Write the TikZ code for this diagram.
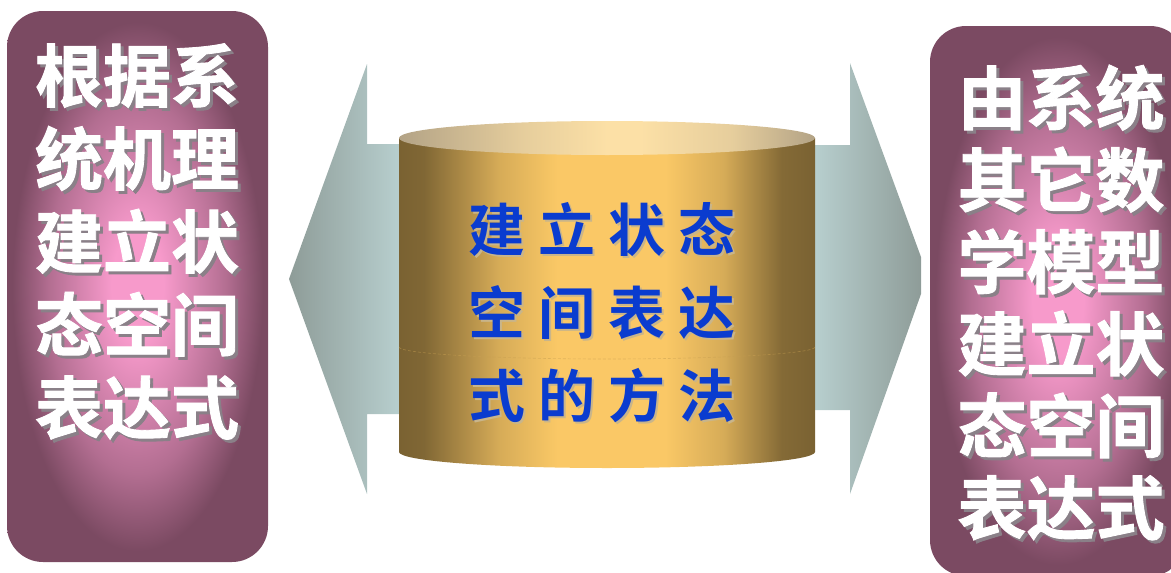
\documentclass[tikz,border=0pt]{standalone}
\usepackage{fontspec}
\newfontfamily\cjk{Noto Sans CJK SC}[BoldFont={Noto Sans CJK SC Bold}]
\newfontfamily\cjkheavy{Noto Sans CJK SC Bold}[FakeBold=1.3]
\definecolor{plum}{HTML}{7B4A62}
\definecolor{pinkc}{HTML}{F79ACB}
\definecolor{arrowlight}{HTML}{BFD8D8}
\definecolor{arrowdark}{HTML}{8E9C98}
\definecolor{cyldark}{HTML}{7A6232}
\definecolor{cylgold}{HTML}{FAC866}
\definecolor{topedge}{HTML}{B3A386}
\definecolor{topmid}{HTML}{FCE0A6}
\definecolor{txtblue}{HTML}{0A3CCF}
\definecolor{shadowgray}{HTML}{8A8088}
\definecolor{glow}{HTML}{C9B58A}
\pgfdeclareradialshading{boxshade}{\pgfpoint{0bp}{0bp}}{color(0bp)=(pinkc); color(5bp)=(pinkc); color(17bp)=(pinkc!45!plum); color(24bp)=(plum); color(50bp)=(plum)}
\pgfdeclarehorizontalshading{cylbody}{100bp}{color(0bp)=(cyldark); color(25bp)=(cyldark); color(28bp)=(cyldark!95!cylgold); color(37bp)=(cylgold!72!cyldark); color(44bp)=(cylgold); color(57bp)=(cylgold); color(64bp)=(cylgold!72!cyldark); color(71bp)=(cyldark!92!cylgold); color(75bp)=(cyldark); color(100bp)=(cyldark)}
\pgfdeclarehorizontalshading{cyltop}{100bp}{color(0bp)=(topedge); color(25bp)=(topedge); color(40bp)=(topmid!70!topedge); color(50bp)=(topmid); color(54bp)=(topmid); color(65bp)=(topmid!70!topedge); color(75bp)=(topedge); color(100bp)=(topedge)}
\newcommand\cgap{\hspace{13pt}}
% text with a drop shadow drawn in the same node
\newcommand\shw[1]{\leavevmode\rlap{\kern3pt\raisebox{-3pt}{\textcolor{shadowgray}{#1}}}#1}
\newcommand\shb[1]{\leavevmode\rlap{\kern2pt\raisebox{-2pt}{\textcolor{glow}{#1}}}#1}
\tikzset{
  sidebox/.style={shading=boxshade, rounded corners=36pt},
  boxtxt/.style={font=\cjkheavy\fontsize{68}{83}\selectfont, align=center, inner sep=0pt, text=white},
  boxtxtR/.style={font=\cjkheavy\fontsize{69}{82}\selectfont, align=center, inner sep=0pt, text=white},
  cyltxt/.style={font=\cjk\bfseries\fontsize{57}{83}\selectfont, align=center, inner sep=0pt, text=txtblue},
  arrowshape/.style={draw=none}
}
\begin{document}
\begin{tikzpicture}[x=1pt,y=-1pt]
\useasboundingbox (0,0) rectangle (1171,573);
\begin{scope}
\clip (0,0) rectangle (1171,573);
% side boxes
\path[sidebox] (7,11) rectangle (268,562);
\path[sidebox] (930,26) rectangle (1186,576);
% arrows
\path[arrowshape, left color=arrowdark, right color=arrowlight]
  (420,144) -- (367,144) -- (367,64) -- (289,279) -- (367,494) -- (367,414) -- (420,414) -- cycle;
\path[arrowshape, left color=arrowlight, right color=arrowdark]
  (795,145) -- (850,145) -- (850,63) -- (921,257) -- (921,294) -- (850,494) -- (850,410) -- (795,410) -- cycle;
% cylinder
\path[shading=cylbody] (399,138) -- (399,452) arc[start angle=180, end angle=0, x radius=208, y radius=16] -- (815,138) -- cycle;
\draw[cyldark!40!cylgold, opacity=0.5, densely dashed, line width=0.6pt] (399,347) arc[start angle=180, end angle=0, x radius=208, y radius=12];
\path[shading=cyltop] (607,138) ellipse [x radius=208, y radius=17];
% left text
\node[boxtxt] (ltxt) at (137,243) {\shw{根据系}\\\shw{统机理}\\\shw{建立状}\\\shw{态空间}\\\shw{表达式}};
% right text
\node[boxtxtR] (rtxt) at (1061,304) {\shw{由系统}\\\shw{其它数}\\\shw{学模型}\\\shw{建立状}\\\shw{态空间}\\\shw{表达式}};
% cylinder text
\node[cyltxt] (ctxt) at (602,314) {\shb{建\cgap 立\cgap 状\cgap 态}\\\shb{空\cgap 间\cgap 表\cgap 达}\\\shb{式\cgap 的\cgap 方\cgap 法}};
\end{scope}
\end{tikzpicture}
\end{document}
